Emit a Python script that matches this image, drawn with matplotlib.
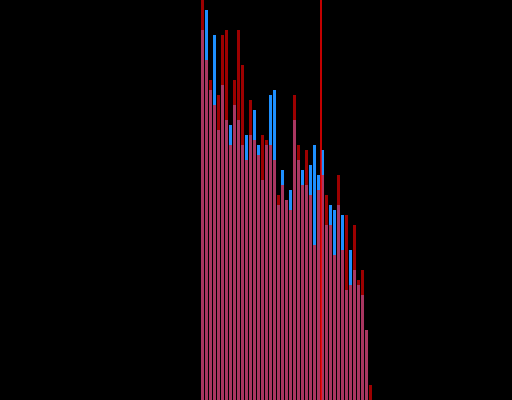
import numpy as np
import matplotlib
matplotlib.use("Agg")
import matplotlib.pyplot as plt

# bin index (category) for each bar
bins = list(range(43))
# series values (counts)
red_counts = [80, 68, 64, 59, 61, 73, 74, 51, 64, 74,
              67, 48, 60, 52, 49, 53, 52, 51, 48, 41,
              43, 40, 38, 61, 51, 43, 50, 41, 31, 42,
              45, 41, 35, 29, 45, 30, 37, 23, 35, 24,
              26, 14, 3]
blue_counts = [74, 78, 62, 73, 54, 63, 56, 55, 59, 56,
               51, 53, 53, 58, 51, 44, 51, 61, 62, 39,
               46, 40, 42, 56, 48, 46, 43, 47, 51, 45,
               50, 35, 39, 38, 39, 37, 22, 30, 26, 23,
               21, 14, 0]
marker_value = 29.875

fig = plt.figure(figsize=(5.12, 4.0), dpi=100, facecolor="black")
ax = fig.add_axes([0, 0, 1, 1])
ax.set_facecolor("black")

ax.bar(bins, blue_counts, width=0.75, align="edge", color="#1E90FF", linewidth=0)
ax.bar(bins, red_counts, width=0.75, align="edge", color="red", alpha=0.62, linewidth=0)
ax.axvline(marker_value, color="red", linewidth=1.1)

ax.set_xlim(-50.25, 77.75)
ax.set_ylim(0, 80)
ax.axis("off")

fig.savefig("out.png", dpi=100, facecolor="black")
